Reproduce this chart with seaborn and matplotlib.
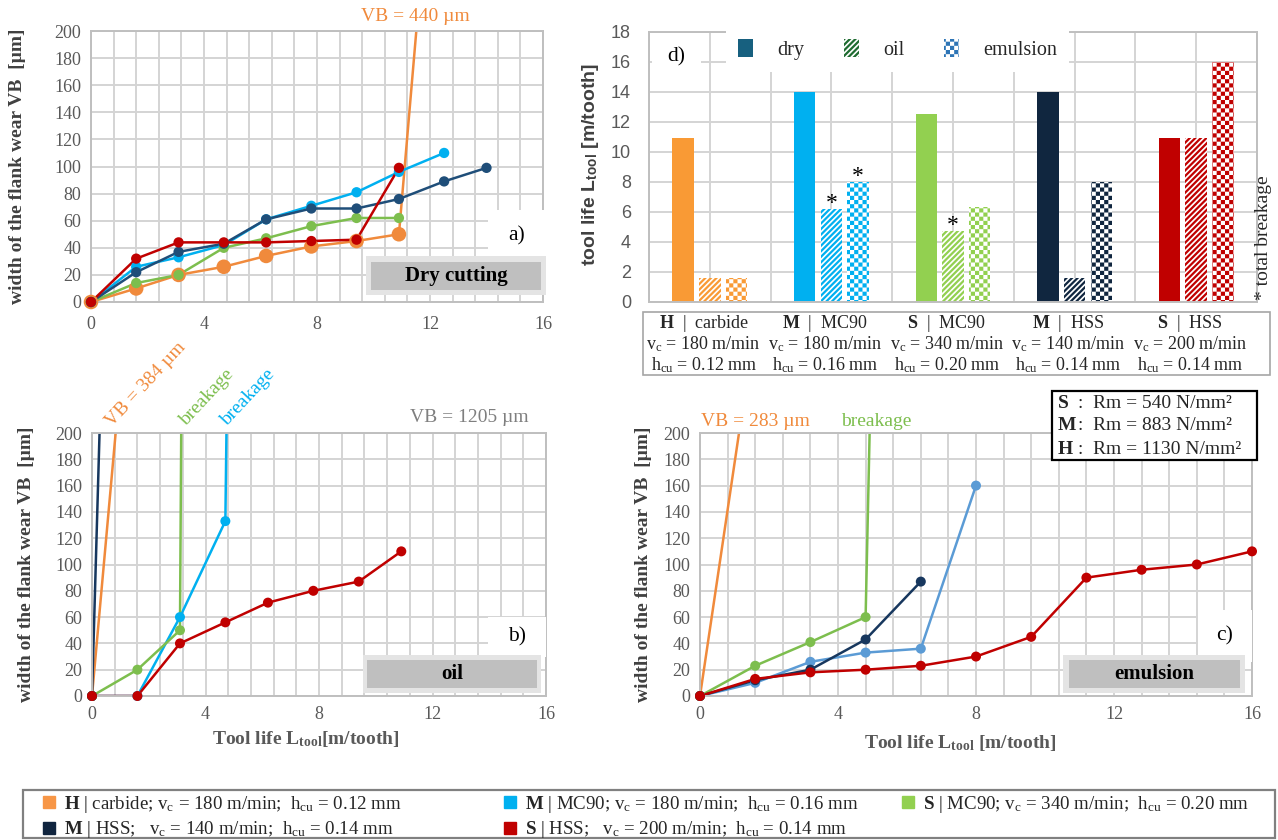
import warnings
warnings.filterwarnings("ignore")
import numpy as np
import pandas as pd
import matplotlib
matplotlib.use("Agg")
import matplotlib as mpl
import matplotlib.pyplot as plt
import matplotlib.hatch as mhatch
from matplotlib.path import Path
from matplotlib.patches import Patch, Rectangle
from matplotlib.lines import Line2D
from matplotlib.ticker import MultipleLocator
import seaborn as sns

# ------------------------------------------------------------------ data
series = ["H carbide", "M MC90", "S MC90", "M HSS", "S HSS"]
material = ["H", "M", "S", "M", "S"]
tool = ["carbide", "MC90", "MC90", "HSS", "HSS"]
vc = [180, 180, 340, 140, 200]
hcu = [0.12, 0.16, 0.20, 0.14, 0.14]

# a) dry cutting
dry_H_L = [0, 1.6, 3.1, 4.7, 6.2, 7.8, 9.4, 10.9, 12.5]
dry_H_VB = [0, 10, 20, 26, 34, 41, 45, 50, 440]
dry_MMC_L = [0, 1.6, 3.1, 4.7, 6.2, 7.8, 9.4, 10.9, 12.5]
dry_MMC_VB = [0, 26, 33, 42, 61, 71, 81, 96, 110]
dry_SMC_L = [0, 1.6, 3.1, 4.7, 6.2, 7.8, 9.4, 10.9]
dry_SMC_VB = [0, 14, 20, 40, 47, 56, 62, 62]
dry_MHSS_L = [0, 1.6, 3.1, 4.7, 6.2, 7.8, 9.4, 10.9, 12.5, 14.0]
dry_MHSS_VB = [0, 22, 37, 43, 61, 69, 69, 76, 89, 99]
dry_SHSS_L = [0, 1.6, 3.1, 4.7, 6.2, 7.8, 9.4, 10.9]
dry_SHSS_VB = [0, 32, 44, 44, 44, 45, 46, 99]

# b) oil
oil_H_L = [0, 1.6]
oil_H_VB = [0, 384]
oil_MMC_L = [0, 1.6, 3.1, 4.7, 4.75]
oil_MMC_VB = [0, 0, 60, 133, 220]
oil_SMC_L = [0, 1.6, 3.1, 3.15]
oil_SMC_VB = [0, 20, 50, 220]
oil_MHSS_L = [0, 1.6]
oil_MHSS_VB = [0, 1205]
oil_SHSS_L = [0, 1.6, 3.1, 4.7, 6.2, 7.8, 9.4, 10.9]
oil_SHSS_VB = [0, 0, 40, 56, 71, 80, 87, 110]

# c) emulsion
emu_H_L = [0, 1.6]
emu_H_VB = [0, 283]
emu_MMC_L = [0, 1.6, 3.2, 4.8, 6.4, 8.0]
emu_MMC_VB = [0, 10, 26, 33, 36, 160]
emu_SMC_L = [0, 1.6, 3.2, 4.8, 5.0]
emu_SMC_VB = [0, 23, 41, 60, 300]
emu_MHSS_L = [0, 1.6, 3.2, 4.8, 6.4]
emu_MHSS_VB = [0, 12, 20, 43, 87]
emu_SHSS_L = [0, 1.6, 3.2, 4.8, 6.4, 8.0, 9.6, 11.2, 12.8, 14.4, 16.0]
emu_SHSS_VB = [0, 13, 18, 20, 23, 30, 45, 90, 96, 100, 110]

# d) tool life
conditions = ["dry", "oil", "emulsion"]
tool_life_dry = [10.9, 14.0, 12.5, 14.0, 10.9]
tool_life_oil = [1.6, 6.2, 4.7, 1.6, 10.9]
tool_life_emulsion = [1.6, 8.0, 6.3, 8.0, 16.0]
breakage_oil = [False, True, True, False, False]
breakage_emulsion = [False, True, False, False, False]

strength_mat = ["S", "M", "H"]
strength_Rm = [540, 883, 1130]

# ------------------------------------------------------------------ style
sns.set_theme(style="white")
plt.rcParams.update({
    "font.family": ["Liberation Serif", "DejaVu Serif"],
    "mathtext.fontset": "custom",
    "mathtext.rm": "Liberation Serif",
    "mathtext.it": "Liberation Serif:italic",
    "mathtext.bf": "Liberation Serif:bold",
    "mathtext.sf": "Liberation Sans:bold",
    "hatch.linewidth": 1.6,
    "axes.edgecolor": "#BFBFBF",
})

GRID = "#D4D4D4"
SPINE = "#BFBFBF"
TICK = "#595959"

line_colors = {"H carbide": "#F08A3C", "M MC90": "#00B0F0", "S MC90": "#7DBE4E",
               "M HSS": "#1F4E79", "S HSS": "#C00000"}
line_colors_b = dict(line_colors, **{"M HSS": "#17375E"})
line_colors_c = dict(line_colors, **{"M MC90": "#5B9BD5", "M HSS": "#17375E"})
bar_colors = ["#F99A35", "#00B0F0", "#92D050", "#10263F", "#C00000"]
legend_colors = ["#F79646", "#00B0F0", "#92D050", "#10253F", "#C00000"]


class CheckerHatch(mhatch.HatchPatternBase):
    """Filled checkerboard hatch, selected with the letter 'c'."""

    def __init__(self, hatch, density):
        self.n = 2 * int(hatch.count("c") * density / 2)
        self.num_vertices = (self.n * self.n // 2) * 5 if self.n else 0

    def set_vertices_and_codes(self, vertices, codes):
        n = self.n
        cell = 1.0 / n
        lw = mpl.rcParams["hatch.linewidth"] / 72.0
        half = max(cell - lw, cell * 0.25) / 2
        k = 0
        for i in range(n):
            for j in range(n):
                if (i + j) % 2 == 0:
                    cx, cy = (i + 0.5) * cell, (j + 0.5) * cell
                    vertices[k:k + 5] = [[cx - half, cy - half], [cx + half, cy - half],
                                         [cx + half, cy + half], [cx - half, cy + half],
                                         [cx - half, cy - half]]
                    codes[k:k + 5] = [Path.MOVETO, Path.LINETO, Path.LINETO,
                                      Path.LINETO, Path.CLOSEPOLY]
                    k += 5


mhatch._hatch_types.append(CheckerHatch)

W, H = 1278, 840
fig = plt.figure(figsize=(W / 100, H / 100), dpi=100)
fig.patch.set_facecolor("white")


def rect(x0, y0, x1, y1):
    return [x0 / W, 1 - y1 / H, (x1 - x0) / W, (y1 - y0) / H]


ax_a = fig.add_axes(rect(91, 31, 543, 302))
ax_b = fig.add_axes(rect(92, 433, 546, 696))
ax_c = fig.add_axes(rect(700, 433, 1252, 696))
ax_d = fig.add_axes(rect(649, 31.5, 1257, 302))


def line_panel(ax, Ls, VBs, palette, sizes):
    rows = [(k, l, v) for k, LL, VV in zip(series, Ls, VBs) for l, v in zip(LL, VV)]
    df = pd.DataFrame(rows, columns=["series", "L", "VB"])
    sns.lineplot(data=df, x="L", y="VB", hue="series", hue_order=series, palette=palette,
                 sort=False, estimator=None, errorbar=None, linewidth=1.8,
                 legend=False, ax=ax)
    vis = df[df["VB"] <= 200]
    sns.scatterplot(data=vis, x="L", y="VB", hue="series", hue_order=series,
                    palette=palette, size="series", sizes=sizes, linewidth=0,
                    clip_on=False, legend=False, ax=ax, zorder=3)
    ax.set_xlim(0, 16)
    ax.set_ylim(0, 200)
    ax.xaxis.set_major_locator(MultipleLocator(4))
    ax.xaxis.set_minor_locator(MultipleLocator(0.8))
    ax.yaxis.set_major_locator(MultipleLocator(20))
    ax.grid(True, which="both", color=GRID, lw=1.4)
    ax.set_axisbelow(True)
    ax.tick_params(which="both", length=0)
    ax.tick_params(axis="x", pad=7, labelsize=13, labelcolor=TICK)
    ax.tick_params(axis="y", pad=7, labelsize=13, labelcolor=TICK)
    for s in ax.spines.values():
        s.set_visible(True)
        s.set_color(SPINE)
        s.set_linewidth(1.4)
    ax.set_xlabel("")
    ax.set_ylabel("width of the flank wear VB  [µm]", fontsize=14,
                  fontweight="bold", color="#404040")


def grey_label(ax, x0, y0, x1, y1, text):
    ax.add_patch(Rectangle((x0 - 0.01, y0 - 0.02), x1 - x0 + 0.02, y1 - y0 + 0.04,
                           transform=ax.transAxes, fc="#E4E4E4", ec="none",
                           zorder=4, clip_on=False))
    ax.add_patch(Rectangle((x0, y0), x1 - x0, y1 - y0, transform=ax.transAxes,
                           fc="#BFBFBF", ec="none", zorder=4, clip_on=False))
    ax.text((x0 + x1) / 2, (y0 + y1) / 2, text, transform=ax.transAxes, ha="center",
            va="center", fontsize=15, fontweight="bold", color="black", zorder=5)


def white_label(ax, x0, y0, x1, y1, text):
    ax.add_patch(Rectangle((x0, y0), x1 - x0, y1 - y0, transform=ax.transAxes,
                           fc="white", ec="none", zorder=4, clip_on=False))
    ax.text((x0 + x1) / 2, (y0 + y1) / 2, text, transform=ax.transAxes, ha="center",
            va="center", fontsize=15.5, color="black", zorder=5)


sizes_a = {"H carbide": 110, "M MC90": 55, "S MC90": 55, "M HSS": 55, "S HSS": 55}
sizes_bc = {k: 52 for k in series}

# ---- a) dry
line_panel(ax_a, [dry_H_L, dry_MMC_L, dry_SMC_L, dry_MHSS_L, dry_SHSS_L],
           [dry_H_VB, dry_MMC_VB, dry_SMC_VB, dry_MHSS_VB, dry_SHSS_VB],
           line_colors, sizes_a)
ax_a.tick_params(axis="x", pad=10)
ax_a.yaxis.set_label_coords(-0.143, 0.5)
ax_a.text(9.56, 211, "VB = 440 µm", ha="left", va="center", fontsize=14,
          color="#F08A3C")
white_label(ax_a, 0.878, 0.148, 1.006, 0.339, "a)")
grey_label(ax_a, 0.619, 0.044, 0.996, 0.148, "Dry cutting")

# ---- b) oil
line_panel(ax_b, [oil_H_L, oil_MMC_L, oil_SMC_L, oil_MHSS_L, oil_SHSS_L],
           [oil_H_VB, oil_MMC_VB, oil_SMC_VB, oil_MHSS_VB, oil_SHSS_VB],
           line_colors_b, sizes_bc)
ax_b.yaxis.set_label_coords(-0.126, 0.5)
ax_b.set_xlabel(r"Tool life L$_{\mathbf{tool}}$[m/tooth]", fontsize=14,
                fontweight="bold", color=TICK)
ax_b.xaxis.set_label_coords(0.471, -0.125)
ax_b.text(0.72, 204.5, "VB = 384 µm", rotation=47, rotation_mode="anchor",
          ha="left", va="baseline", fontsize=14, color="#F08A3C")
ax_b.text(3.33, 205, "breakage", rotation=47, rotation_mode="anchor",
          ha="left", va="baseline", fontsize=14, color="#7DBE4E")
ax_b.text(4.78, 205, "breakage", rotation=47, rotation_mode="anchor",
          ha="left", va="baseline", fontsize=14, color="#00B0F0")
ax_b.text(11.2, 212, "VB = 1205 µm", ha="left", va="center", fontsize=14,
          color="#7F7F7F")
white_label(ax_b, 0.872, 0.148, 1.0, 0.30, "b)")
grey_label(ax_b, 0.606, 0.030, 0.980, 0.137, "oil")

# ---- c) emulsion
line_panel(ax_c, [emu_H_L, emu_MMC_L, emu_SMC_L, emu_MHSS_L, emu_SHSS_L],
           [emu_H_VB, emu_MMC_VB, emu_SMC_VB, emu_MHSS_VB, emu_SHSS_VB],
           line_colors_c, sizes_bc)
ax_c.yaxis.set_label_coords(-0.087, 0.5)
ax_c.set_xlabel(r"Tool life L$_{\mathbf{tool}}$ [m/tooth]", fontsize=14,
                fontweight="bold", color=TICK)
ax_c.xaxis.set_label_coords(0.471, -0.14)
ax_c.text(0.03, 209, "VB = 283 µm", ha="left", va="center", fontsize=14,
          color="#F08A3C")
ax_c.text(4.09, 209, "breakage", ha="left", va="center", fontsize=14,
          color="#7DBE4E")
white_label(ax_c, 0.902, 0.129, 1.0, 0.327, "c)")
grey_label(ax_c, 0.668, 0.030, 0.978, 0.137, "emulsion")

# material strength box
fig.add_artist(Rectangle((1052 / W, 1 - 460 / H), 205 / W, 69 / H,
                         transform=fig.transFigure, fc="white", ec="black", lw=1.6,
                         zorder=6))
for i, (m, rm) in enumerate(zip(strength_mat, strength_Rm)):
    yy = 1 - (403 + 23 * i) / H
    fig.text(1057 / W, yy, r"$\mathbf{%s}$" % m, ha="left", va="center",
             fontsize=14, zorder=7)
    fig.text(1080 / W, yy, ":", ha="center", va="center", fontsize=14, zorder=7)
    fig.text(1093 / W, yy, "Rm = %d N/mm²" % rm, ha="left", va="center",
             fontsize=14, zorder=7)

# ---- d) tool life bars
groups = ["%s | %s" % (m, t) for m, t in zip(material, tool)]
rows = []
for g, d, o, e in zip(groups, tool_life_dry, tool_life_oil, tool_life_emulsion):
    rows += [(g, "dry", d), (g, "oil", o), (g, "emulsion", e)]
dfb = pd.DataFrame(rows, columns=["group", "cond", "L"])
sns.barplot(data=dfb, x="group", y="L", hue="cond", hue_order=conditions,
            order=groups, width=0.66, gap=0.2, errorbar=None, saturation=1,
            legend=False, ax=ax_d)
hatches = [None, "//////", "cccc"]
for ci, cont in enumerate(ax_d.containers):
    for gi, bar in enumerate(cont.patches):
        col = bar_colors[gi]
        if ci == 0:
            bar.set_facecolor(col)
            bar.set_edgecolor(col)
            bar.set_linewidth(0)
        else:
            bar.set_facecolor("white")
            bar.set_edgecolor(col)
            bar.set_linewidth(0)
            bar.set_hatch(hatches[ci])
for ci, flags in [(1, breakage_oil), (2, breakage_emulsion)]:
    for bar, f in zip(ax_d.containers[ci].patches, flags):
        if f:
            ax_d.text(bar.get_x() + bar.get_width() / 2, bar.get_height(), "*",
                      ha="center", va="baseline", fontsize=17, color="black")

ax_d.set_xlim(-0.5, 4.5)
ax_d.set_ylim(0, 18)
ax_d.set_xticks(np.arange(-0.5, 4.51, 0.5))
ax_d.set_xticklabels([])
ax_d.yaxis.set_major_locator(MultipleLocator(2))
ax_d.grid(True, color=GRID, lw=1.4)
ax_d.set_axisbelow(True)
ax_d.tick_params(which="both", length=0)
ax_d.tick_params(axis="y", pad=13, labelsize=13, labelcolor=TICK)
for lbl in ax_d.get_yticklabels():
    lbl.set_fontfamily("Liberation Sans")
for s in ax_d.spines.values():
    s.set_visible(True)
    s.set_color(SPINE)
    s.set_linewidth(1.4)
ax_d.set_xlabel("")
ax_d.set_ylabel(r"tool life L$_{\mathsf{tool}}$ [m/tooth]", fontsize=14,
                fontweight="bold", color="#404040", fontfamily="Liberation Sans")
ax_d.yaxis.set_label_coords(-0.079, 0.51)

leg_d = ax_d.legend(
    [Patch(fc="#17607F", ec="#17607F", lw=0),
     Patch(fc="white", ec="#1E6B30", hatch="//////", lw=0),
     Patch(fc="white", ec="#2E75B6", hatch="cccc", lw=0)],
    conditions, ncol=3, loc="lower left", mode="expand",
    bbox_to_anchor=(0.127, 0.851, 0.564, 0.163), frameon=True, facecolor="white",
    edgecolor="none", framealpha=1, fancybox=False, handlelength=0.75,
    handleheight=1.0, handletextpad=1.2, fontsize=14.5, borderpad=0.6,
    borderaxespad=0)
leg_d.set_zorder(6)
white_label(ax_d, 0.005, 0.847, 0.0855, 0.969, "d)")

# table under the bars
fig.add_artist(Rectangle((643 / W, 1 - 375 / H), 627 / W, 63 / H,
                         transform=fig.transFigure, fill=False, ec="#A6A6A6", lw=1.2))
tx = ax_d.get_xaxis_transform()
for gi, (m, t, v, h) in enumerate(zip(material, tool, vc, hcu)):
    ax_d.text(gi - 0.05, (302 - 323) / 270.5, r"$\mathbf{%s}$  |  %s" % (m, t),
              transform=tx, ha="center", va="center", fontsize=13)
    ax_d.text(gi - 0.05, (302 - 344) / 270.5, r"v$_\mathrm{c}$ = %d m/min" % v,
              transform=tx, ha="center", va="center", fontsize=13)
    ax_d.text(gi - 0.05, (302 - 365) / 270.5, r"h$_\mathrm{cu}$ = %.2f mm" % h,
              transform=tx, ha="center", va="center", fontsize=13)

fig.text(1264 / W, 1 - 300 / H, "* total breakage", rotation=90, ha="center",
         va="bottom", fontsize=14)

# ---- bottom legend (three columns, each placed where the reference puts it)
labels = []
for m, t, v, h in zip(material, tool, vc, hcu):
    sep = ";   " if t == "HSS" else "; "
    labels.append(r"$\mathbf{%s}$ | %s%sv$_\mathrm{c}$ = %d m/min;  h$_\mathrm{cu}$ = %.2f mm"
                  % (m, t, sep, v, h))
handles = [Line2D([], [], marker="s", ls="none", color=c, markersize=9)
           for c in legend_colors]
columns = [([0, 3], 41), ([1, 4], 502), ([2], 900)]
for idx, xpx in columns:
    fig.legend([handles[i] for i in idx], [labels[i] for i in idx], ncol=1,
               loc="upper left", bbox_to_anchor=(xpx / W, 1 - 794 / H), frameon=False,
               handletextpad=0.4, handlelength=0.8, labelspacing=0.22,
               borderpad=0, borderaxespad=0, fontsize=13.6)
fig.add_artist(Rectangle((23 / W, 1 - 838 / H), 1252 / W, 48 / H,
                         transform=fig.transFigure, fill=False, ec="#808080", lw=1.6))

fig.savefig("out.png", dpi=100)
